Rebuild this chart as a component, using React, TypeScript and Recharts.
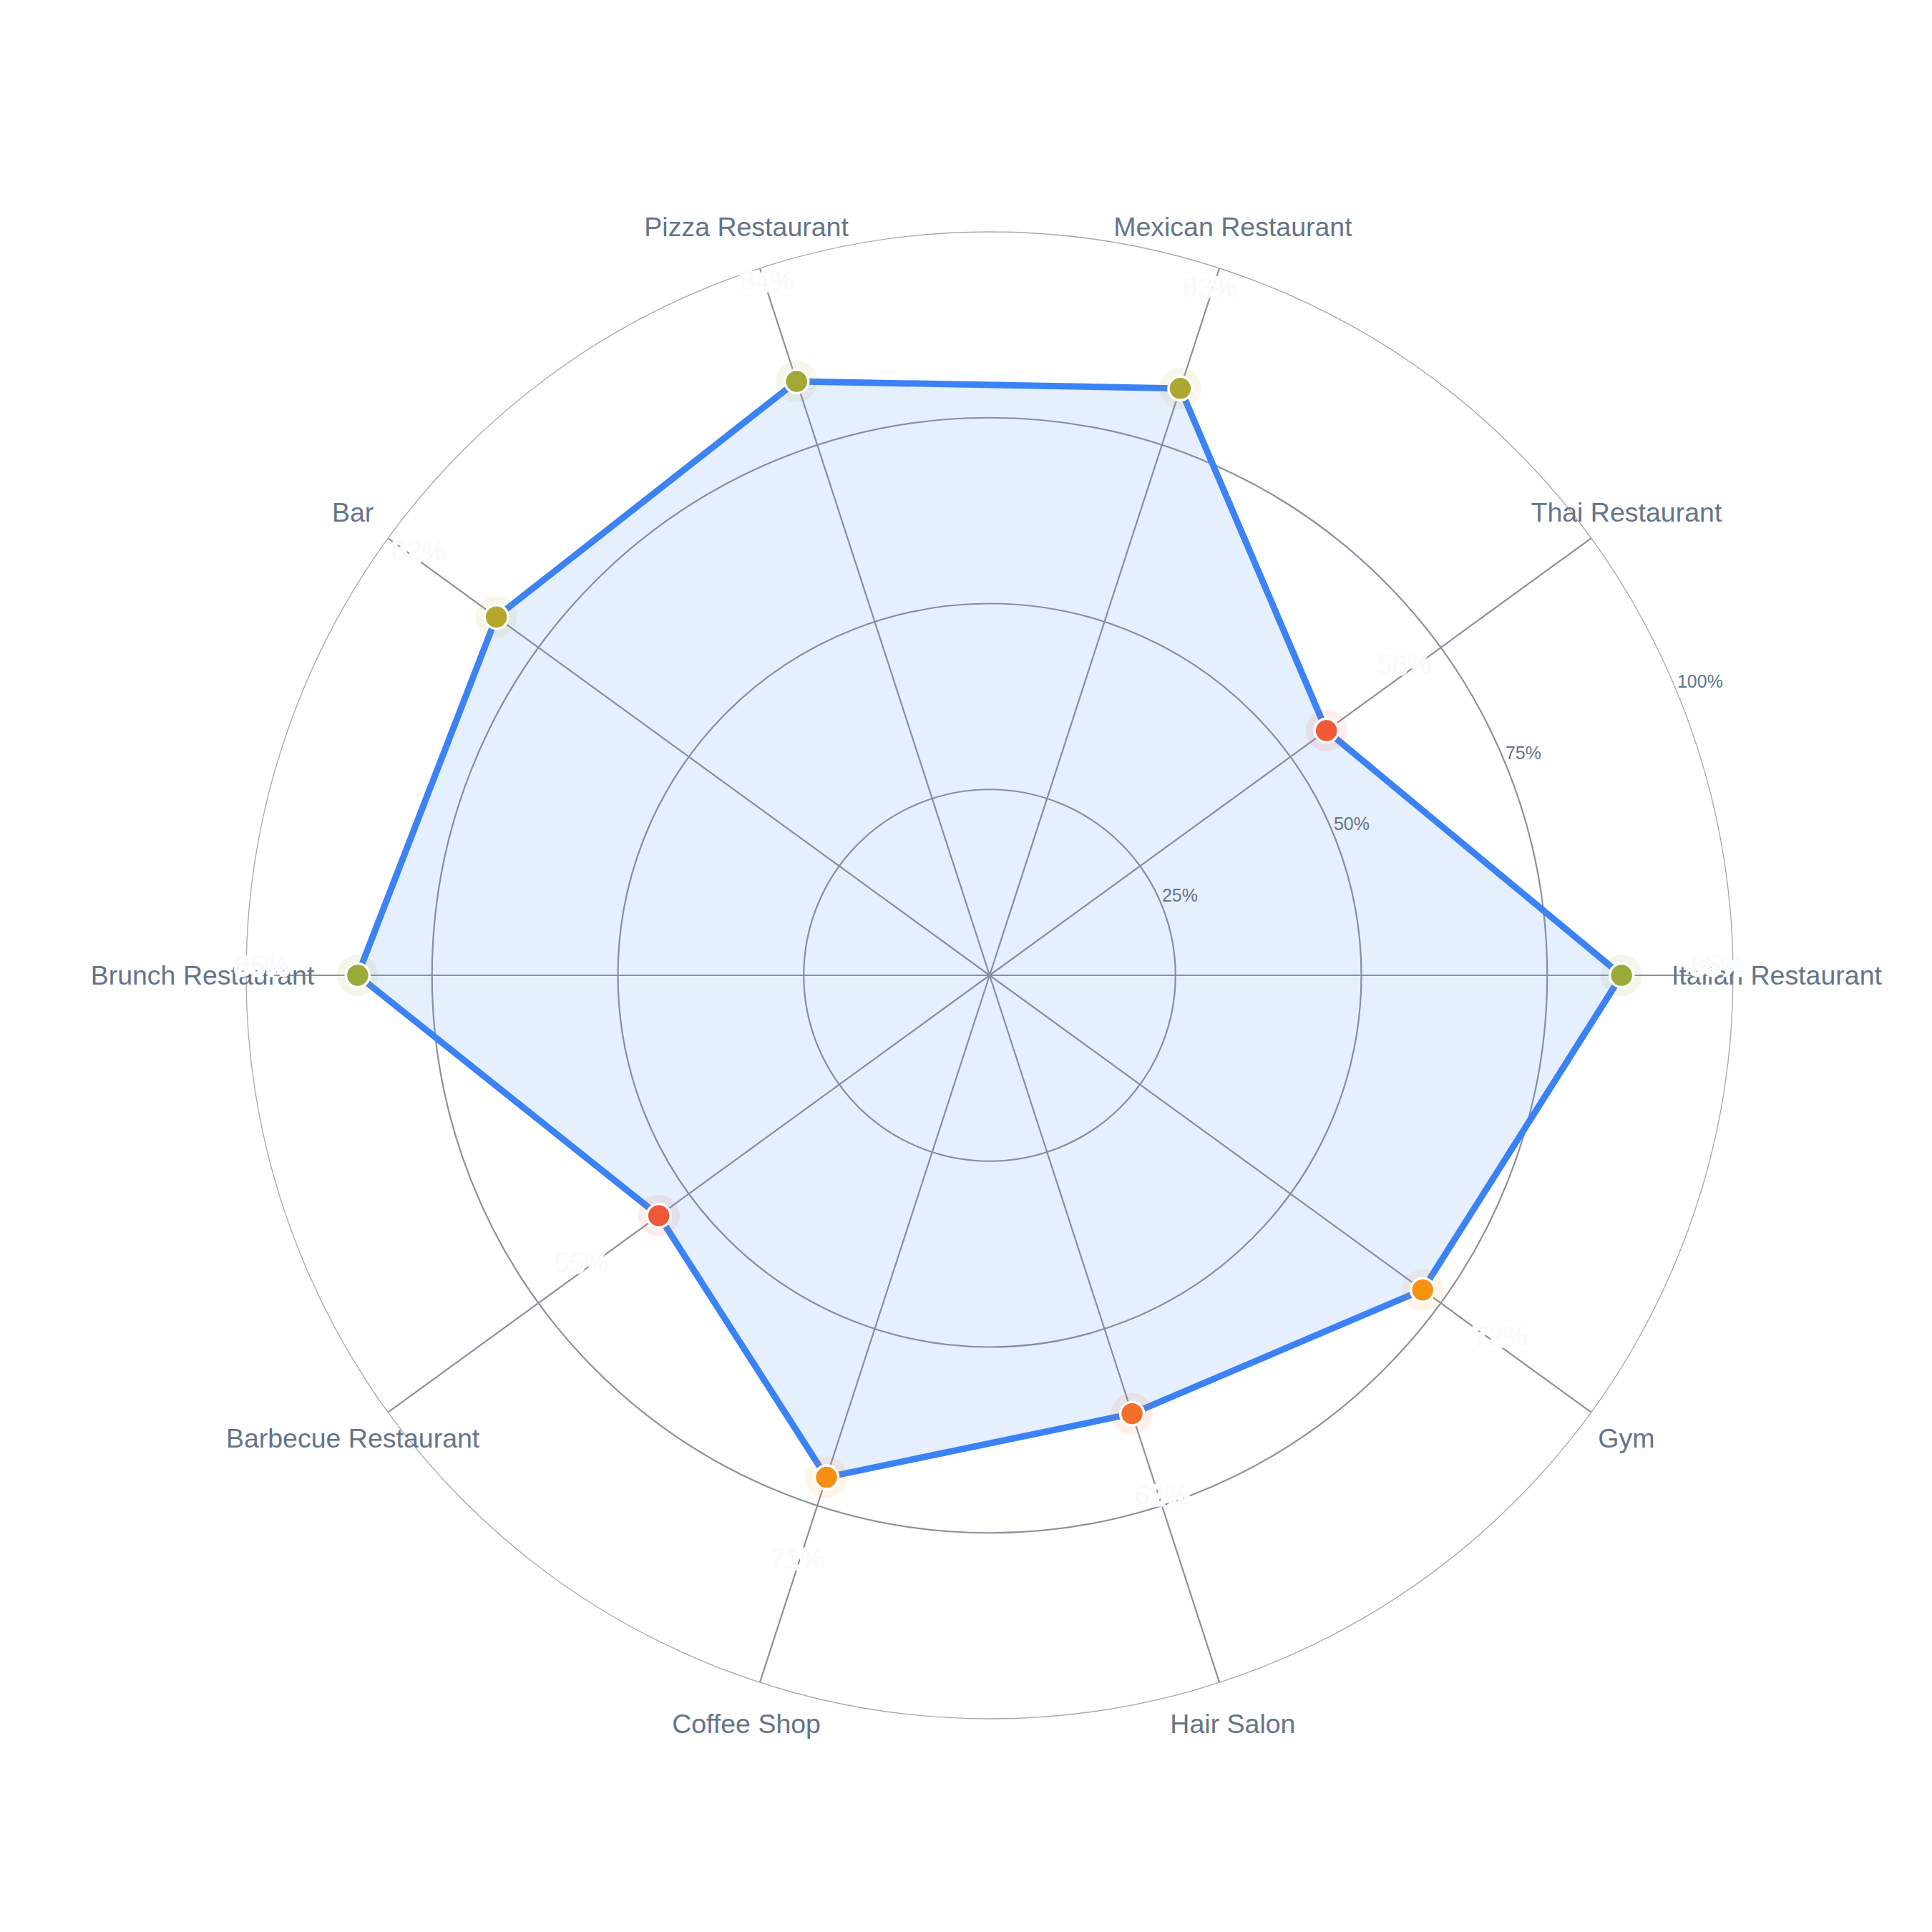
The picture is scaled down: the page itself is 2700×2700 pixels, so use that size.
import React from "react";
import {
    RadarChart,
    Radar,
    PolarGrid,
    PolarAngleAxis,
    PolarRadiusAxis,
} from "recharts";

// category order runs counter-clockwise from 3 o'clock
const categories = [
    "Italian Restaurant",
    "Thai Restaurant",
    "Mexican Restaurant",
    "Pizza Restaurant",
    "Bar",
    "Brunch Restaurant",
    "Barbecue Restaurant",
    "Coffee Shop",
    "Hair Salon",
    "Gym",
];
const shares = [85, 56, 83, 84, 82, 85, 55, 71, 62, 72];
const radiusTicks = [25, 50, 75, 100];

// the chart is drawn clockwise, so walk the list backwards after the first entry
const rows = categories.map((name, i) => ({ name, value: shares[i] }));
const data = [rows[0], ...rows.slice(1).reverse()];

const SIZE = 2684;
const CX = 1375;
const CY = 1355;
const R = 1039;
const FONT = "'Liberation Sans', Arial, Helvetica, sans-serif";

// red -> amber -> emerald depending on the score
const hexToRgb = (h: string) => [1, 3, 5].map((i) => parseInt(h.slice(i, i + 2), 16));
const mix = (a: string, b: string, t: number) => {
    const ca = hexToRgb(a);
    const cb = hexToRgb(b);
    const c = ca.map((v, i) => Math.round(v + (cb[i] - v) * t));
    return `rgb(${c[0]},${c[1]},${c[2]})`;
};
const colorFor = (v: number) => {
    if (v <= 50) return "#ef4444";
    if (v < 75) return mix("#ef4444", "#f59e0b", (v - 50) / 25);
    return mix("#f59e0b", "#10b981", Math.min(1, (v - 75) / 25));
};

const AngleTick = (props: any) => {
    const { x, y, payload } = props;
    return (
        <text
            x={x}
            y={y}
            textAnchor="middle"
            dominantBaseline="central"
            fill="#64748b"
            fontSize={37.5}
            fontFamily={FONT}
        >
            {payload.value}
        </text>
    );
};

const RadiusTick = (props: any) => {
    const { x, y, payload } = props;
    return (
        <text x={x + 1} y={y - 4} textAnchor="start" fill="#64748b" fontSize={25} fontFamily={FONT}>
            {payload.value}%
        </text>
    );
};

const ScoreDot = (props: any) => {
    const { cx, cy, index } = props;
    const v = data[index].value;
    const color = colorFor(v);
    const dx = cx - CX;
    const dy = cy - CY;
    const len = Math.sqrt(dx * dx + dy * dy) || 1;
    const lx = cx + (dx / len) * 134;
    const ly = cy + (dy / len) * 134;
    return (
        <g key={`dot-${index}`}>
            <circle cx={cx} cy={cy} r={29} fill={color} fillOpacity={0.1} />
            <circle cx={cx} cy={cy} r={16.5} fill={color} stroke="#ffffff" strokeWidth={3.5} />
            <text
                x={lx}
                y={ly}
                textAnchor="middle"
                fill="#f8fafc"
                stroke="#ffffff"
                strokeWidth={5}
                paintOrder="stroke"
                fontSize={38}
                fontFamily={FONT}
            >
                {v}%
            </text>
        </g>
    );
};

export default function App() {
    return (
        <div style={{ width: SIZE, height: SIZE, background: "#ffffff" }}>
            <RadarChart
                width={SIZE}
                height={SIZE}
                data={data}
                cx={CX}
                cy={CY}
                outerRadius={R}
                startAngle={0}
                endAngle={-360}
                margin={{ top: 0, right: 0, bottom: 0, left: 0 }}
            >
                <PolarGrid
                    gridType="circle"
                    polarRadius={[0.25 * R, 0.5 * R, 0.75 * R]}
                    stroke="#8b929c"
                    strokeWidth={2.2}
                />
                <PolarAngleAxis
                    dataKey="name"
                    axisLineType="circle"
                    axisLine={{ stroke: "#a3a8b0", strokeWidth: 1.3 }}
                    tickLine={false}
                    tickSize={61}
                    tick={<AngleTick />}
                />
                <PolarRadiusAxis
                    angle={22.5}
                    domain={[0, 100]}
                    ticks={radiusTicks}
                    axisLine={false}
                    tickLine={false}
                    tick={<RadiusTick />}
                />
                <Radar
                    dataKey="value"
                    stroke="#3b82f6"
                    strokeWidth={9}
                    fill="#3b82f6"
                    fillOpacity={0.13}
                    dot={(p: any) => <ScoreDot {...p} />}
                    isAnimationActive={false}
                />
            </RadarChart>
        </div>
    );
}
